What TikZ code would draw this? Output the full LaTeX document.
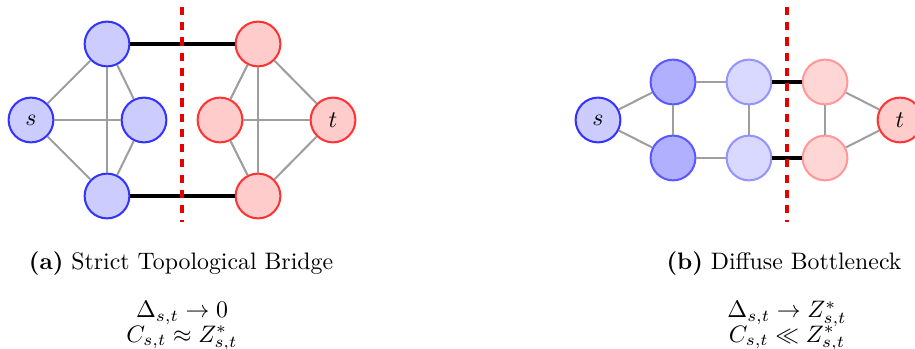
\documentclass[tikz,border=0pt]{standalone}
\usepackage{amsmath,amssymb}
\begin{document}
\begin{tikzpicture}[x=0.42pt,y=-0.42pt,
  vtx/.style={circle,minimum size=18.8pt,inner sep=0pt,line width=0.85pt},
  bnode/.style={vtx,fill=blue!20,draw=blue!80},
  rnode/.style={vtx,fill=red!20,draw=red!80},
  dbnode/.style={vtx,fill=blue!31,draw=blue!65},
  lbnode/.style={vtx,fill=blue!15,draw=blue!42},
  lrnode/.style={vtx,fill=red!16,draw=red!40},
  gedge/.style={draw=black!38,line width=0.85pt},
  bridge/.style={draw=black,line width=1.3pt},
  cut/.style={draw=red!90!black,line width=1.3pt,dash pattern=on 3.4pt off 3pt},
  txt/.style={inner sep=0pt,anchor=base},
  mtxt/.style={inner sep=0pt,anchor=base,align=center}]
\useasboundingbox (0,0) rectangle (915,349);
\clip (0,0) rectangle (915,349);
% ---------- panel (a)
\node[bnode] (s1) at (31,120) {$s$};
\node[bnode] (a1) at (107,44) {};
\node[bnode] (a2) at (144,120) {};
\node[bnode] (a3) at (107,196) {};
\node[rnode] (r1) at (258,44) {};
\node[rnode] (r2) at (220,120) {};
\node[rnode] (r3) at (258,196) {};
\node[rnode] (t1) at (333,120) {$t$};
\draw[gedge] (s1) -- (a1);
\draw[gedge] (s1) -- (a2);
\draw[gedge] (s1) -- (a3);
\draw[gedge] (a1) -- (a2);
\draw[gedge] (a1) -- (a3);
\draw[gedge] (a2) -- (a3);
\draw[gedge] (t1) -- (r1);
\draw[gedge] (t1) -- (r2);
\draw[gedge] (t1) -- (r3);
\draw[gedge] (r1) -- (r2);
\draw[gedge] (r1) -- (r3);
\draw[gedge] (r2) -- (r3);
\draw[bridge] (a1) -- (r1);
\draw[bridge] (a3) -- (r3);
\coordinate (c1t) at (182,7);
\coordinate (c1b) at (182,222);
\draw[cut] (c1t) -- (c1b);
\node[txt] (capa) at (181,270) {\textbf{(a)} Strict Topological Bridge};
\node[mtxt] (ma) at (182,342) {$\Delta_{s,t} \to 0$\\[-1.9pt]$C_{s,t} \approx Z^*_{s,t}$};
% ---------- panel (b)
\node[bnode] (s2) at (598,120) {$s$};
\node[dbnode] (d1) at (673,82) {};
\node[dbnode] (d2) at (673,158) {};
\node[lbnode] (l1) at (749,82) {};
\node[lbnode] (l2) at (749,158) {};
\node[lrnode] (p1) at (825,82) {};
\node[lrnode] (p2) at (825,158) {};
\node[rnode] (t2) at (900,120) {$t$};
\draw[gedge] (s2) -- (d1);
\draw[gedge] (s2) -- (d2);
\draw[gedge] (d1) -- (d2);
\draw[gedge] (d1) -- (l1);
\draw[gedge] (d2) -- (l2);
\draw[gedge] (l1) -- (l2);
\draw[gedge] (p1) -- (p2);
\draw[gedge] (p1) -- (t2);
\draw[gedge] (p2) -- (t2);
\draw[bridge] (l1) -- (p1);
\draw[bridge] (l2) -- (p2);
\coordinate (c2t) at (787,7);
\coordinate (c2b) at (787,222);
\draw[cut] (c2t) -- (c2b);
\node[txt] (capb) at (784,270) {\textbf{(b)} Diffuse Bottleneck};
\node[mtxt] (mb) at (787,342) {$\Delta_{s,t} \to Z^*_{s,t}$\\[-1.9pt]$C_{s,t} \ll Z^*_{s,t}$};
\end{tikzpicture}
\end{document}
